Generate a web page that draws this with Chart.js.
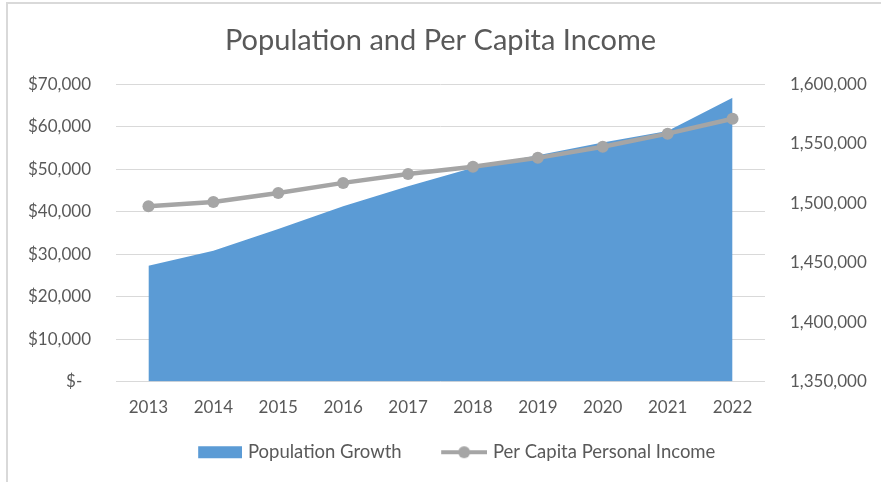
<!DOCTYPE html>
<html>
<head>
<meta charset="utf-8">
<script src="https://cdn.jsdelivr.net/npm/chart.js@4/dist/chart.umd.min.js"></script>
<style>
  html, body { margin: 0; padding: 0; background: #ffffff; }
  #wrap { position: relative; width: 881px; height: 482px; overflow: hidden; }
  #frame { position: absolute; left: 6px; top: 2px; width: 900px; height: 500px;
           border-top: 2px solid #d9d9d9; border-left: 2px solid #d9d9d9; pointer-events: none; }
  canvas { position: absolute; left: 0; top: 0; }
</style>
</head>
<body>
<div id="wrap">
  <canvas id="c" width="881" height="482"></canvas>
  <div id="frame"></div>
</div>
<script>
const years = ['2013','2014','2015','2016','2017','2018','2019','2020','2021','2022'];
const populationGrowth = [1447500, 1460100, 1478400, 1497500, 1514300, 1529800, 1540400, 1551100, 1560700, 1588800];
const perCapitaIncome = [41300, 42300, 44400, 46800, 48900, 50600, 52700, 55300, 58400, 61900];
const incomeTicks = [0, 10000, 20000, 30000, 40000, 50000, 60000, 70000];
const populationTicks = [1350000, 1400000, 1450000, 1500000, 1550000, 1600000];

const BLUE = '#5b9bd5';
const GRAY = '#a5a5a5';
const TEXT = '#595959';
const FONT = 'Lato, "Open Sans", sans-serif';

function makeIcon(kind) {
  const c = document.createElement('canvas');
  c.width = 80; c.height = 14;
  const g = c.getContext('2d');
  if (kind === 'area') {
    g.fillStyle = BLUE;
    g.fillRect(36, 1, 44, 12);
  } else {
    g.strokeStyle = GRAY; g.lineWidth = 4;
    g.beginPath(); g.moveTo(34, 7); g.lineTo(80, 7); g.stroke();
    g.fillStyle = GRAY;
    g.beginPath(); g.arc(57, 7, 6, 0, Math.PI * 2); g.fill();
  }
  return c;
}
const iconArea = makeIcon('area');
const iconLine = makeIcon('line');

new Chart(document.getElementById('c'), {
  data: {
    labels: years,
    datasets: [
      {
        type: 'line',
        label: 'Population Growth',
        data: populationGrowth,
        yAxisID: 'yPop',
        backgroundColor: BLUE,
        borderColor: BLUE,
        borderWidth: 0,
        pointRadius: 0,
        fill: 'start',
        tension: 0,
        order: 2
      },
      {
        type: 'line',
        label: 'Per Capita Personal Income',
        data: perCapitaIncome,
        yAxisID: 'yInc',
        borderColor: GRAY,
        backgroundColor: GRAY,
        borderWidth: 4.5,
        pointRadius: 6,
        pointBackgroundColor: GRAY,
        pointBorderWidth: 0,
        fill: false,
        tension: 0,
        order: 1
      }
    ]
  },
  options: {
    responsive: false,
    devicePixelRatio: 1,
    animation: false,
    layout: { padding: { top: 16, bottom: 10.5, left: 0, right: 0 } },
    plugins: {
      tooltip: { enabled: false },
      title: {
        display: true,
        text: 'Population and Per Capita Income',
        color: TEXT,
        font: { family: FONT, size: 29, weight: 'normal' },
        padding: { top: 7, bottom: 26.6 }
      },
      legend: {
        position: 'bottom',
        labels: {
          usePointStyle: true,
          pointStyleWidth: 73,
          padding: 9,
          color: TEXT,
          font: { family: FONT, size: 18.5 },
          generateLabels: (chart) => chart.data.datasets.map((ds, i) => ({
            text: ds.label,
            pointStyle: i === 0 ? iconArea : iconLine,
            fillStyle: ds.backgroundColor,
            strokeStyle: ds.borderColor,
            lineWidth: 0,
            fontColor: TEXT,
            hidden: false,
            datasetIndex: i
          }))
        }
      }
    },
    scales: {
      x: {
        type: 'category',
        offset: true,
        grid: { display: false, drawTicks: false },
        border: { display: false },
        ticks: { color: TEXT, font: { family: FONT, size: 17 }, padding: 16, maxRotation: 0 }
      },
      yInc: {
        type: 'linear',
        position: 'left',
        min: incomeTicks[0],
        max: incomeTicks[incomeTicks.length - 1],
        afterBuildTicks: (s) => { s.ticks = incomeTicks.map(v => ({ value: v })); },
        grid: { color: '#d9d9d9', lineWidth: 1, drawTicks: false },
        border: { display: false },
        ticks: {
          color: TEXT,
          font: { family: FONT, size: 17 },
          padding: 25,
          callback: (v) => v === 0 ? '$-  ' : '$' + Number(v).toLocaleString('en-US')
        },
        afterFit: (s) => { s.width = 116; }
      },
      yPop: {
        type: 'linear',
        position: 'right',
        min: populationTicks[0],
        max: populationTicks[populationTicks.length - 1],
        afterBuildTicks: (s) => { s.ticks = populationTicks.map(v => ({ value: v })); },
        grid: { display: false, drawTicks: false },
        border: { display: false },
        ticks: {
          color: TEXT,
          font: { family: FONT, size: 17 },
          padding: 25,
          callback: (v) => Number(v).toLocaleString('en-US')
        },
        afterFit: (s) => { s.width = 116; }
      }
    }
  }
});
</script>
</body>
</html>
